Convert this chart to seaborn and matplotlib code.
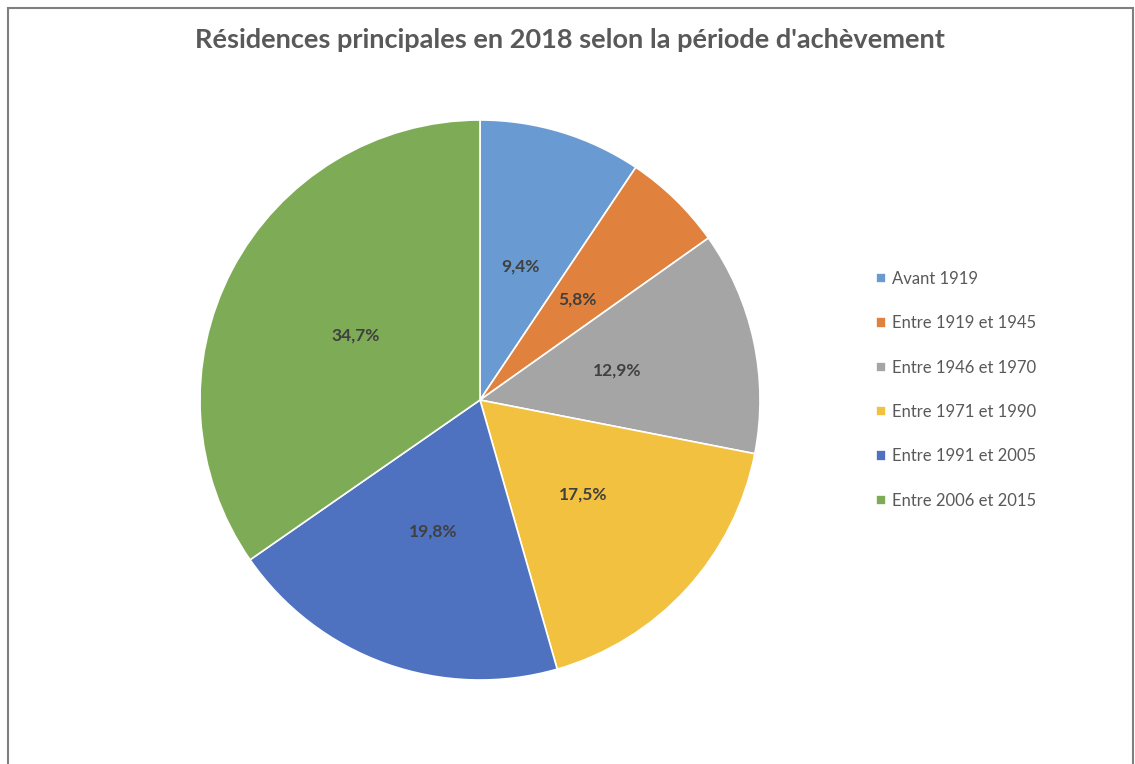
import matplotlib.pyplot as plt
import seaborn as sns
from matplotlib.patches import Rectangle

# data
periods = ['Avant 1919', 'Entre 1919 et 1945', 'Entre 1946 et 1970',
           'Entre 1971 et 1990', 'Entre 1991 et 2005', 'Entre 2006 et 2015']
shares = [9.4, 5.8, 12.9, 17.5, 19.8, 34.7]
colors = ['#6A9AD2', '#E0823D', '#A5A5A5', '#F2C140', '#4E72BF', '#7EAB55']

sns.set_theme(style='white')
plt.rcParams['font.family'] = ['Lato', 'DejaVu Sans']

W, H = 1135, 764
fig = plt.figure(figsize=(W / 100, H / 100), dpi=100)

# pie axes: centre (480, 400), radius 280 px
ax = fig.add_axes([200 / W, (H - 680) / H, 560 / W, 560 / H])
wedges, texts, autotexts = ax.pie(
    shares, colors=colors, startangle=90, counterclock=False,
    autopct=lambda p: f'{p:.1f}%'.replace('.', ','), pctdistance=0.5,
    wedgeprops=dict(edgecolor='white', linewidth=1.2),
    textprops=dict(color='#404040', fontsize=12.5, fontweight='bold'))
ax.set_xlim(-1, 1)
ax.set_ylim(-1, 1)
ax.set_aspect('equal')
ax.axis('off')

fig.text(570 / W, 1 - 40 / H, "Résidences principales en 2018 selon la période d'achèvement",
         ha='center', va='center', fontsize=19.5, fontweight='bold', color='#595959')

leg = fig.legend(wedges, periods, loc='upper left',
                 bbox_to_anchor=(861 / W, 1 - 256 / H), frameon=False,
                 fontsize=12, labelcolor='#595959', handlelength=0.6,
                 handleheight=0.6, handletextpad=0.35, labelspacing=1.7)

# outer chart border (bottom is cropped in the reference)
fig.patches.append(Rectangle((8 / W, -0.05), (1133 - 8) / W, 1 - 8 / H + 0.05,
                             transform=fig.transFigure, fill=False,
                             edgecolor='#7F7F7F', linewidth=1.5))

fig.savefig('out.png', dpi=100)
